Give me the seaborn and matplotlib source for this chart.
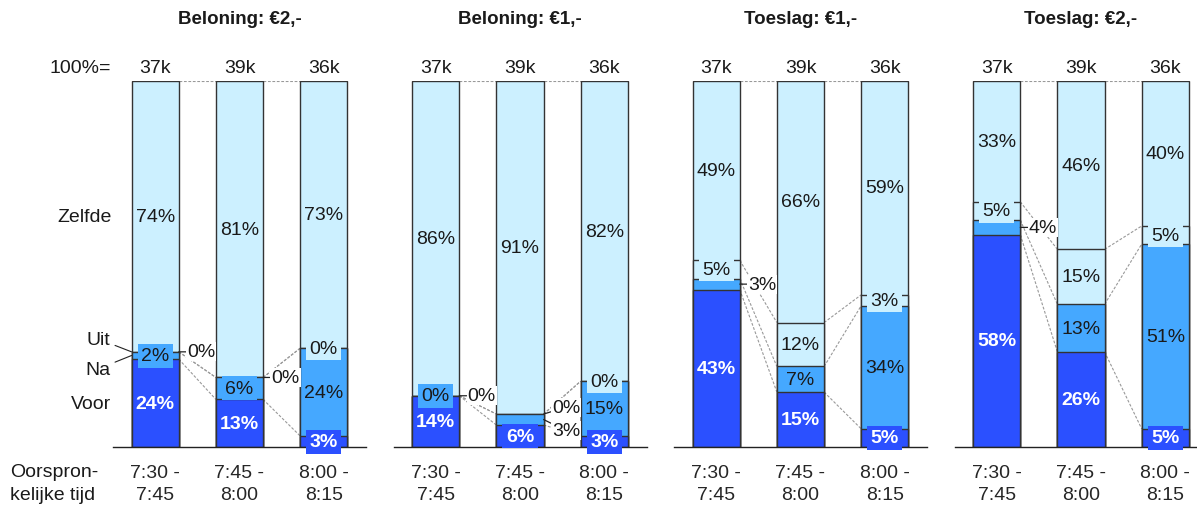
import numpy as np
import pandas as pd
import matplotlib
matplotlib.use("Agg")
import matplotlib.pyplot as plt
import seaborn as sns

# --- Data ----------------------------------------------------------------------------------------

PANEL_TITLES = ["Beloning: €2,-", "Beloning: €1,-", "Toeslag: €1,-", "Toeslag: €2,-"]
TIME_SLOTS = ["7:30 -\n7:45", "7:45 -\n8:00", "8:00 -\n8:15"]
TOTALS = ["37k", "39k", "36k"]
SEGMENTS = ["Voor", "Na", "Uit", "Zelfde"]

# share (%) per panel, per original time slot
VOOR = [[24, 13, 3], [14, 6, 3], [43, 15, 5], [58, 26, 5]]
NA = [[2, 6, 24], [0, 3, 15], [3, 7, 34], [4, 13, 51]]
UIT = [[0, 0, 0], [0, 0, 0], [5, 12, 3], [5, 15, 5]]
ZELFDE = [[74, 81, 73], [86, 91, 82], [49, 66, 59], [33, 46, 40]]

# labels drawn to the right of the bar: (panel, bar, segment) -> vertical nudge in points
OUTSIDE_LABELS = {
    (0, 0, "Uit"): 0, (0, 1, "Uit"): 0,
    (1, 0, "Uit"): 0, (1, 1, "Uit"): 5, (1, 1, "Na"): -8,
    (2, 0, "Na"): 0,
    (3, 0, "Na"): 0,
}

COLORS = {"Voor": "#2B50FF", "Na": "#45A8FF", "Uit": "#CCF0FF", "Zelfde": "#CCF0FF"}
EDGE = "#333333"
BAR_W = 0.56
FS = 14

# --- Style ---------------------------------------------------------------------------------------

sns.set_style("white")
plt.rcParams["font.family"] = ["Liberation Sans", "DejaVu Sans"]
plt.rcParams["text.color"] = "#1a1a1a"

fig = plt.figure(figsize=(11.97, 5.10), dpi=100)
W, H = 1197, 510

for p, title in enumerate(PANEL_TITLES):
    left_px = 113 + 280.5 * p
    ax = fig.add_axes([left_px / W, 62 / H, 253 / W, 366 / H])

    df = pd.DataFrame({
        "slot": TIME_SLOTS,
        "Voor": VOOR[p], "Na": NA[p], "Uit": UIT[p], "Zelfde": ZELFDE[p],
    })
    # rescale rounded shares so every bar reaches 100%
    total = df[SEGMENTS].sum(axis=1)
    cum = df[SEGMENTS].cumsum(axis=1).div(total, axis=0) * 100

    # stacked bars drawn as overlapping cumulative bars, tallest first
    for seg in reversed(SEGMENTS):
        sns.barplot(x=df["slot"], y=cum[seg], order=TIME_SLOTS, color=COLORS[seg],
                    saturation=1, width=BAR_W, edgecolor=EDGE, linewidth=1,
                    errorbar=None, ax=ax, zorder=2)

    # dashed connectors between segment boundaries of neighbouring bars
    for j in range(len(TIME_SLOTS) - 1):
        for seg in SEGMENTS:
            ax.plot([j + BAR_W / 2, j + 1 - BAR_W / 2], [cum[seg][j], cum[seg][j + 1]],
                    color="#999999", lw=0.8, ls=(0, (2.5, 1.5)), zorder=1)

    # value labels
    for j in range(len(TIME_SLOTS)):
        for k, seg in enumerate(SEGMENTS):
            val = df[seg][j]
            top = cum[seg][j]
            low = cum[SEGMENTS[k - 1]][j] if k > 0 else 0
            ymid = (top + low) / 2
            key = (p, j, seg)
            if key in OUTSIDE_LABELS:
                ax.annotate(f"{val}%", xy=(j + BAR_W / 2, ymid), xytext=(6, OUTSIDE_LABELS[key]),
                            textcoords="offset points", ha="left", va="center", fontsize=FS,
                            bbox=dict(boxstyle="square,pad=0.05", fc="white", ec="none"),
                            arrowprops=dict(arrowstyle="-", lw=0.9, color="#222222",
                                            shrinkA=0, shrinkB=0), zorder=6)
            else:
                is_voor = seg == "Voor"
                # small segments get a coloured box that spills over the boundaries
                box = dict(boxstyle="square,pad=0.18", fc=COLORS[seg], ec="none") if val <= 6 else None
                ax.text(j, ymid, f"{val}%", ha="center", va="center", fontsize=FS,
                        color="white" if is_voor else "#1a1a1a",
                        fontweight="bold" if is_voor else "normal",
                        bbox=box, zorder=5)

    # totals above bars
    for j, t in enumerate(TOTALS):
        ax.text(j, 103.6, t, ha="center", va="center", fontsize=FS, clip_on=False)

    ax.text(0.5, 1.17, title, transform=ax.transAxes, ha="center", va="center",
            fontsize=13.5, fontweight="bold")

    ax.set_xlim(-0.5, 2.5)
    ax.set_ylim(0, 100)
    ax.set_xlabel("")
    ax.set_ylabel("")
    ax.set_yticks([])
    ax.tick_params(axis="x", length=0, pad=12, labelsize=FS)
    for lab in ax.get_xticklabels():
        lab.set_linespacing(1.4)
    sns.despine(ax=ax, left=True)
    ax.spines["bottom"].set_color("#222222")
    ax.spines["bottom"].set_linewidth(1)

    if p == 0:
        c0 = cum.iloc[0]
        ax.text(-0.52, 103.6, "100%=", ha="right", va="center", fontsize=FS)
        ax.text(-0.52, (c0["Uit"] + 100) / 2, "Zelfde", ha="right", va="center", fontsize=FS)
        ax.text(-0.52, c0["Voor"] / 2, "Voor", ha="right", va="center", fontsize=FS)
        ax.annotate("Uit", xy=(-BAR_W / 2, c0["Uit"]), xytext=(-0.53, 29.5),
                    ha="right", va="center", fontsize=FS,
                    arrowprops=dict(arrowstyle="-", lw=0.8, color="#222222", shrinkA=1, shrinkB=0))
        ax.annotate("Na", xy=(-BAR_W / 2, (c0["Voor"] + c0["Na"]) / 2), xytext=(-0.53, 21.3),
                    ha="right", va="center", fontsize=FS,
                    arrowprops=dict(arrowstyle="-", lw=0.8, color="#222222", shrinkA=1, shrinkB=0))

fig.text(10 / W, 1 - 484 / H, "Oorspron-\nkelijke tijd", ha="left", va="center",
         fontsize=FS, linespacing=1.4)

fig.savefig("out.png", dpi=100)
